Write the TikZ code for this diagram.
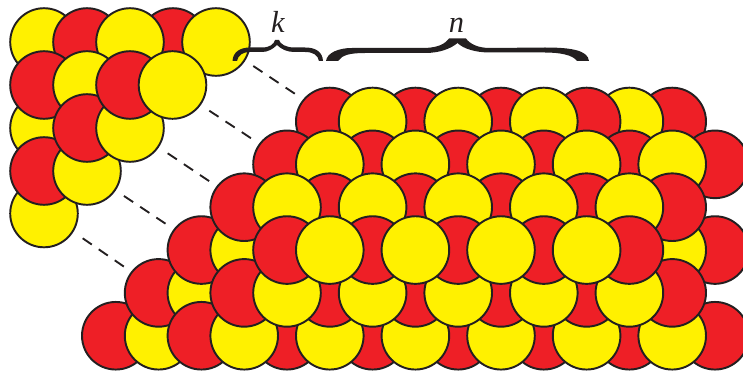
\documentclass[tikz,border=0pt]{standalone}
\usepackage{xcolor}
\usepackage{fontspec}
\newfontfamily\labelfont{Liberation Serif}
\definecolor{ballred}{HTML}{EE1F26}
\definecolor{ballyellow}{HTML}{FFF100}
\definecolor{inkblack}{HTML}{231F20}
\tikzset{
	redball/.style={draw=inkblack, fill=ballred, line width=1.65pt},
	yellowball/.style={draw=inkblack, fill=ballyellow, line width=1.65pt},
	guide/.style={draw=inkblack, line width=1.6pt, dash pattern=on 9.4pt off 7.2pt},
	bracefill/.style={fill=inkblack},
	sizelabel/.style={anchor=base, text=inkblack, font=\fontsize{26}{30}\selectfont\labelfont\itshape, inner sep=0pt}
}
% balls of the end triangle, at pixel positions
\newcommand{\trired}[2]{\draw[redball] (#1,#2) circle (33.8);}
\newcommand{\triyellow}[2]{\draw[yellowball] (#1,#2) circle (33.8);}
% balls of the long pile: column, row
\newcommand{\pilered}[2]{\draw[redball] ({115.8+42.8*#1},{121.5+42.85*#2}) circle (33.8);}
\newcommand{\pileyellow}[2]{\draw[yellowball] ({115.8+42.8*#1},{121.5+42.85*#2}) circle (33.8);}
\begin{document}
\begin{tikzpicture}[x=0.03cm, y=-0.03cm]
	\useasboundingbox (0,0) rectangle (743,371);

	% End triangle
	\triyellow{44}{42}
	\trired{87}{42}
	\trired{173}{42}
	\triyellow{130}{42}
	\triyellow{216}{42}
	\triyellow{44}{128}
	\trired{44}{85}
	\triyellow{87}{85}
	\triyellow{44}{213.5}
	\trired{44}{171}
	\triyellow{87}{171}
	\trired{87}{128}
	\triyellow{130}{128}
	\trired{130}{85}
	\triyellow{172.5}{85}

	% Dashed guides
	\draw[guide] (82.7,238.3) -- (124,266.7);
	\draw[guide] (124,196) -- (166,224);
	\draw[guide] (167.7,153.3) -- (210,181.7);
	\draw[guide] (209.3,110.7) -- (251.7,138.7);
	\draw[guide] (253.3,66) -- (295.7,94.3);

	% Back row
	\pilered{13}{0}
	\pileyellow{12}{0}
	\pilered{11}{0}
	\foreach \c in {9,7,5} {\pilered{\c}{0}}
	\foreach \c in {6,8,10} {\pileyellow{\c}{0}}

	% Second row
	\foreach \c in {4,6,...,14} {\pilered{\c}{1}}
	\foreach \c in {5,7,...,13} {\pileyellow{\c}{1}}

	% Front row
	\pilered{0}{5}
	\pileyellow{1}{5}
	\foreach \c in {4,6,...,14} {\pilered{\c}{5}}
	\foreach \c in {5,7,...,13} {\pileyellow{\c}{5}}
	\pilered{1}{4}
	\pileyellow{2}{4}
	\pilered{2}{5}
	\pileyellow{3}{5}

	% Ends of the middle row
	\pilered{2}{3}
	\pileyellow{3}{3}
	\pilered{14}{3}
	\pileyellow{13}{3}

	% Second level
	\foreach \r in {2,4} {
		\foreach \c in {3,5,7,9,11,13} {\pilered{\c}{\r}}
	}
	\foreach \r in {2,4} {
		\foreach \c in {4,6,...,12} {\pileyellow{\c}{\r}}
	}

	% Top level
	\foreach \c in {4,6,...,12} {\pilered{\c}{3}}
	\foreach \c in {5,7,9,11} {\pileyellow{\c}{3}}

	% Brace for k
	\fill[bracefill] (232.5,61) .. controls (233,52) and (240,47.5) .. (250,47.5) -- (262,47.5)
		.. controls (270,47.5) and (274,44) .. (275,40) -- (279,40)
		.. controls (280,44) and (286,47.5) .. (294,47.5) -- (305,47.5)
		.. controls (316,47.5) and (322.5,52) .. (323,61) -- (319,61)
		.. controls (318,55) and (313,52) .. (305,52) -- (294,52)
		.. controls (287,52) and (281,49) .. (277,45)
		.. controls (273,49) and (268,52) .. (262,52) -- (250,52)
		.. controls (243,52) and (238,55) .. (237,61) -- cycle;
	\node[sizelabel] (klabel) at (278,33) {k};

	% Brace for n
	\fill[bracefill] (326,61) .. controls (327,53) and (338,48) .. (352,48) -- (425,48)
		.. controls (438,47.5) and (445,44) .. (449,38.5) -- (466,38.5)
		.. controls (470,44) and (478,48) .. (490,48) -- (545,47.5)
		.. controls (570,47.5) and (588,50) .. (589,61) -- (577,61)
		.. controls (573,55) and (560,52.5) .. (545,52.5) -- (490,52.5)
		.. controls (475,52.5) and (463,48.5) .. (457.5,43)
		.. controls (451,48.5) and (440,53) .. (425,53) -- (365,53)
		.. controls (350,53) and (342,55) .. (338,61) -- cycle;
	\node[sizelabel] (nlabel) at (456.5,33) {n};
\end{tikzpicture}
\end{document}
